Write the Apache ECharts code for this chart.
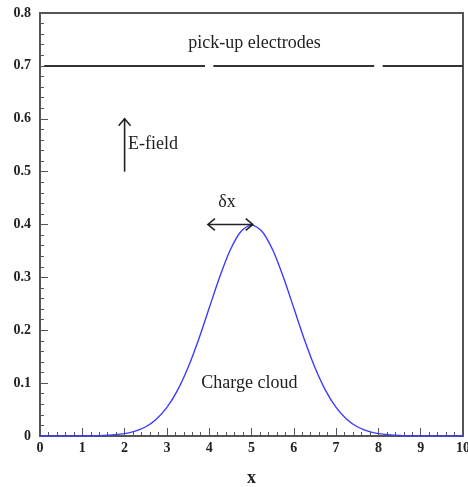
<!DOCTYPE html>
<html>
<head>
<meta charset="utf-8">
<script src="https://cdn.jsdelivr.net/npm/echarts@6/dist/echarts.min.js"></script>
<style>
  html, body { margin: 0; padding: 0; background: #fff; }
  #chart { width: 468px; height: 487px; }
</style>
</head>
<body>
<div id="chart"></div>
<script>
// charge cloud profile
const cloudX = [0, 0.5, 1, 1.5, 2, 2.25, 2.5, 2.75, 3, 3.25, 3.5, 3.75, 4, 4.25, 4.5, 4.75, 5,
  5.25, 5.5, 5.75, 6, 6.25, 6.5, 6.75, 7, 7.25, 7.5, 7.75, 8, 8.5, 9, 9.5, 10]
const cloudY = [0, 0, 0.0001, 0.0009, 0.0044, 0.0091, 0.0175, 0.0317, 0.054, 0.0863, 0.1295, 0.1826, 0.242, 0.3011, 0.3521, 0.3867, 0.3989,
  0.3867, 0.3521, 0.3011, 0.242, 0.1826, 0.1295, 0.0863, 0.054, 0.0317, 0.0175, 0.0091, 0.0044, 0.0009, 0.0001, 0, 0]

// pick-up electrode segments at y = 0.7: [x start, x end, y]
const electrodes = [
  [0.1, 3.9, 0.7],
  [4.1, 7.9, 0.7],
  [8.1, 10, 0.7],
]

// arrows: [x1, y1, x2, y2, head at start, head at end]
const arrows = [
  [2, 0.5, 2, 0.6, 0, 1],
  [3.97, 0.4, 5.03, 0.4, 1, 1],
]

// annotations: [x, y, text, align]
const notes = [
  [5.07, 0.742, 'pick-up electrodes', 'center'],
  [2.08, 0.551, 'E-field', 'left'],
  [4.42, 0.442, 'δx', 'center'],
  [4.95, 0.1, 'Charge cloud', 'center'],
]

const xTicks = [0, 1, 2, 3, 4, 5, 6, 7, 8, 9, 10]
const yTicks = [0, 0.1, 0.2, 0.3, 0.4, 0.5, 0.6, 0.7, 0.8]

const serif = '"Liberation Serif", "DejaVu Serif", serif'
const ink = '#222'
const axisColor = '#555'

const chart = echarts.init(document.getElementById('chart'))

const chevron = (api, tip, from, size) => {
  const dx = tip[0] - from[0]
  const dy = tip[1] - from[1]
  const len = Math.sqrt(dx * dx + dy * dy) || 1
  const ux = dx / len
  const uy = dy / len
  const bx = tip[0] - ux * size
  const by = tip[1] - uy * size
  const px = -uy * size * 0.85
  const py = ux * size * 0.85
  return {
    type: 'polyline',
    shape: { points: [[bx + px, by + py], tip, [bx - px, by - py]] },
    style: { stroke: ink, lineWidth: 1.6, fill: null },
  }
}

chart.setOption({
  animation: false,
  grid: {
    left: 40, right: 5, top: 13, bottom: 51,
    outerBoundsMode: 'none',
    containLabel: false,
    show: true, borderColor: axisColor, borderWidth: 2, backgroundColor: '#fff',
  },
  xAxis: {
    type: 'value',
    min: 0, max: 10, interval: 1,
    name: 'x',
    nameLocation: 'middle',
    nameGap: 33,
    nameTextStyle: { fontFamily: serif, fontWeight: 'bold', fontSize: 18, color: ink },
    axisLine: { lineStyle: { color: axisColor, width: 2 } },
    axisTick: { inside: true, length: 8, lineStyle: { color: axisColor } },
    minorTick: { show: true, splitNumber: 5, length: 4, lineStyle: { color: axisColor } },
    splitLine: { show: false },
    axisLabel: {
      margin: 5,
      fontFamily: serif, fontWeight: 'bold', fontSize: 14, color: ink,
      formatter: (v) => (xTicks.includes(v) ? String(v) : ''),
    },
  },
  yAxis: {
    type: 'value',
    min: 0, max: 0.8, interval: 0.1,
    axisLine: { lineStyle: { color: axisColor, width: 2 } },
    axisTick: { inside: true, length: 8, lineStyle: { color: axisColor } },
    minorTick: { show: true, splitNumber: 5, length: 4, lineStyle: { color: axisColor } },
    splitLine: { show: false },
    axisLabel: {
      margin: 9,
      fontFamily: serif, fontWeight: 'bold', fontSize: 14, color: ink,
      formatter: (v) => {
        const t = yTicks.find((k) => Math.abs(k - v) < 1e-6)
        return t === undefined ? '' : (t === 0 ? '0' : t.toFixed(1))
      },
    },
  },
  series: [
    {
      type: 'line',
      data: cloudX.map((x, i) => [x, cloudY[i]]),
      smooth: 0.3,
      showSymbol: false,
      lineStyle: { color: '#3c3cff', width: 1.4 },
      z: 3,
    },
    {
      type: 'custom',
      data: electrodes,
      renderItem: (params, api) => {
        const a = api.coord([api.value(0), api.value(2)])
        const b = api.coord([api.value(1), api.value(2)])
        return {
          type: 'line',
          shape: { x1: a[0], y1: a[1], x2: b[0], y2: b[1] },
          style: { stroke: '#333', lineWidth: 2 },
        }
      },
      z: 4,
    },
    {
      type: 'custom',
      data: arrows,
      renderItem: (params, api) => {
        const a = api.coord([api.value(0), api.value(1)])
        const b = api.coord([api.value(2), api.value(3)])
        const children = [{
          type: 'line',
          shape: { x1: a[0], y1: a[1], x2: b[0], y2: b[1] },
          style: { stroke: ink, lineWidth: 1.6 },
        }]
        if (api.value(4)) children.push(chevron(api, a, b, 7))
        if (api.value(5)) children.push(chevron(api, b, a, 7))
        return { type: 'group', children }
      },
      z: 5,
    },
    {
      type: 'custom',
      data: notes,
      renderItem: (params, api) => {
        const p = api.coord([api.value(0), api.value(1)])
        const n = notes[params.dataIndex]
        return {
          type: 'text',
          x: p[0], y: p[1],
          style: {
            text: n[2], align: n[3], verticalAlign: 'middle',
            fontFamily: serif, fontSize: 18, fill: ink,
          },
        }
      },
      z: 6,
    },
  ],
})
</script>
</body>
</html>
